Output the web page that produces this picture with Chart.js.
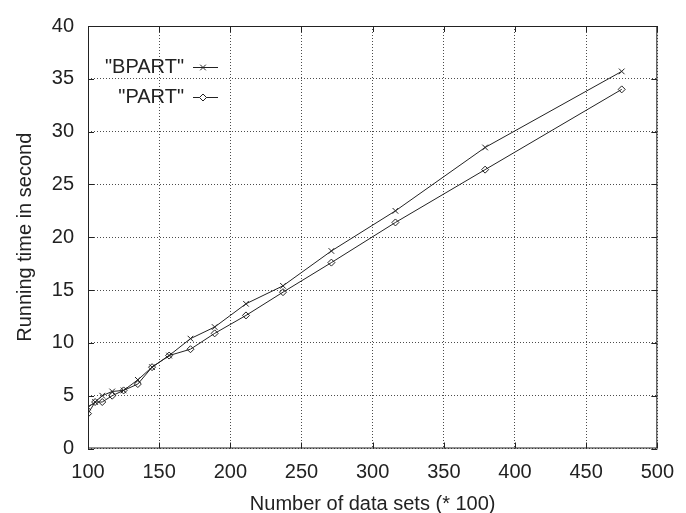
<!DOCTYPE html>
<html lang="en">
<head>
  <meta charset="UTF-8" />
  <title>Running time</title>
  <script src="https://cdn.jsdelivr.net/npm/chart.js"></script>
  <style>
    html, body { margin: 0; padding: 0; background: #fff; }
    #wrap { width: 686px; height: 513px; }
  </style>
</head>
<body>
  <div id="wrap"><canvas id="chart" width="686" height="513"></canvas></div>

  <script>
    // data
    const dataSets = [100, 105, 110, 117, 125, 135, 145, 157, 172, 189, 211, 237, 271, 316, 379, 475];
    const bpartTime = [3.9, 4.4, 5.0, 5.4, 5.5, 6.5, 7.7, 8.8, 10.4, 11.5, 13.7, 15.4, 18.7, 22.5, 28.5, 35.7];
    const partTime = [3.3, 4.4, 4.4, 5.0, 5.5, 6.1, 7.7, 8.8, 9.4, 10.9, 12.6, 14.8, 17.6, 21.4, 26.4, 34.0];
    const seriesNames = ['"BPART"', '"PART"'];
    const xTicks = [100, 150, 200, 250, 300, 350, 400, 450, 500];
    const yTicks = [0, 5, 10, 15, 20, 25, 30, 35, 40];

    const ink = '#222';
    const font = { family: "'Liberation Sans', Arial, sans-serif", size: 20 };

    // frame, inward tick marks and the gnuplot style key
    const gnuplotFrame = {
      id: 'gnuplotFrame',
      afterDraw(chart) {
        const { ctx, chartArea: a, scales } = chart;
        ctx.save();
        ctx.strokeStyle = ink;
        ctx.lineWidth = 1;
        ctx.strokeRect(a.left + 0.5, a.top + 0.5, a.right - a.left - 1, a.bottom - a.top - 1);
        ctx.beginPath();
        xTicks.forEach(v => {
          const x = Math.round(scales.x.getPixelForValue(v)) + 0.5;
          ctx.moveTo(x, a.bottom); ctx.lineTo(x, a.bottom - 6);
          ctx.moveTo(x, a.top); ctx.lineTo(x, a.top + 6);
        });
        yTicks.forEach(v => {
          const y = Math.round(scales.y.getPixelForValue(v)) + 0.5;
          ctx.moveTo(a.left, y); ctx.lineTo(a.left + 6, y);
          ctx.moveTo(a.right, y); ctx.lineTo(a.right - 6, y);
        });
        ctx.stroke();

        // key
        ctx.font = font.size + 'px ' + font.family;
        ctx.textAlign = 'right';
        ctx.textBaseline = 'middle';
        const rows = [67.5, 97.5];
        chart.data.datasets.forEach((ds, i) => {
          const y = rows[i];
          ctx.fillStyle = ink;
          ctx.fillText(seriesNames[i], 184, y);
          ctx.beginPath();
          ctx.moveTo(193, y); ctx.lineTo(218, y);
          ctx.stroke();
          ctx.fillStyle = '#fff';
          Chart.helpers.drawPoint(ctx, {
            pointStyle: ds.pointStyle, radius: ds.pointRadius, rotation: 0, borderWidth: 1
          }, 203, y);
        });
        ctx.restore();
      }
    };

    new Chart(document.getElementById('chart'), {
      type: 'line',
      data: {
        datasets: [
          {
            label: seriesNames[0],
            data: dataSets.map((x, i) => ({ x, y: bpartTime[i] })),
            borderColor: ink,
            borderWidth: 1,
            pointStyle: 'crossRot',
            pointRadius: 4,
            pointBorderColor: ink,
            pointBorderWidth: 1,
            tension: 0
          },
          {
            label: seriesNames[1],
            data: dataSets.map((x, i) => ({ x, y: partTime[i] })),
            borderColor: ink,
            borderWidth: 1,
            pointStyle: 'rectRot',
            pointRadius: 3.5,
            pointBackgroundColor: 'rgba(0,0,0,0)',
            pointBorderColor: ink,
            pointBorderWidth: 1,
            tension: 0
          }
        ]
      },
      options: {
        responsive: false,
        animation: false,
        layout: { padding: { top: 19, right: 28, left: 0, bottom: 0 } },
        plugins: {
          legend: { display: false },
          tooltip: { enabled: false }
        },
        scales: {
          x: {
            type: 'linear',
            min: 100,
            max: 500,
            afterBuildTicks: s => { s.ticks = xTicks.map(v => ({ value: v })); },
            afterFit: s => { s.height = 64.5; },
            grid: { color: 'rgba(0,0,0,0.7)', drawTicks: false },
            border: { display: false, dash: [1, 2] },
            ticks: { color: ink, font, padding: 12, maxRotation: 0 },
            title: { display: true, text: 'Number of data sets (* 100)', color: ink, font, padding: { top: 0, bottom: -3 } }
          },
          y: {
            min: 0,
            max: 40,
            afterBuildTicks: s => { s.ticks = yTicks.map(v => ({ value: v })); },
            afterFit: s => { s.width = 88; },
            grid: { color: 'rgba(0,0,0,0.7)', drawTicks: false },
            border: { display: false, dash: [1, 2] },
            ticks: { color: ink, font, padding: 14 },
            title: { display: true, text: 'Running time in second', color: ink, font, padding: { top: 13, bottom: 0 } }
          }
        }
      },
      plugins: [gnuplotFrame]
    });
  </script>
</body>
</html>
